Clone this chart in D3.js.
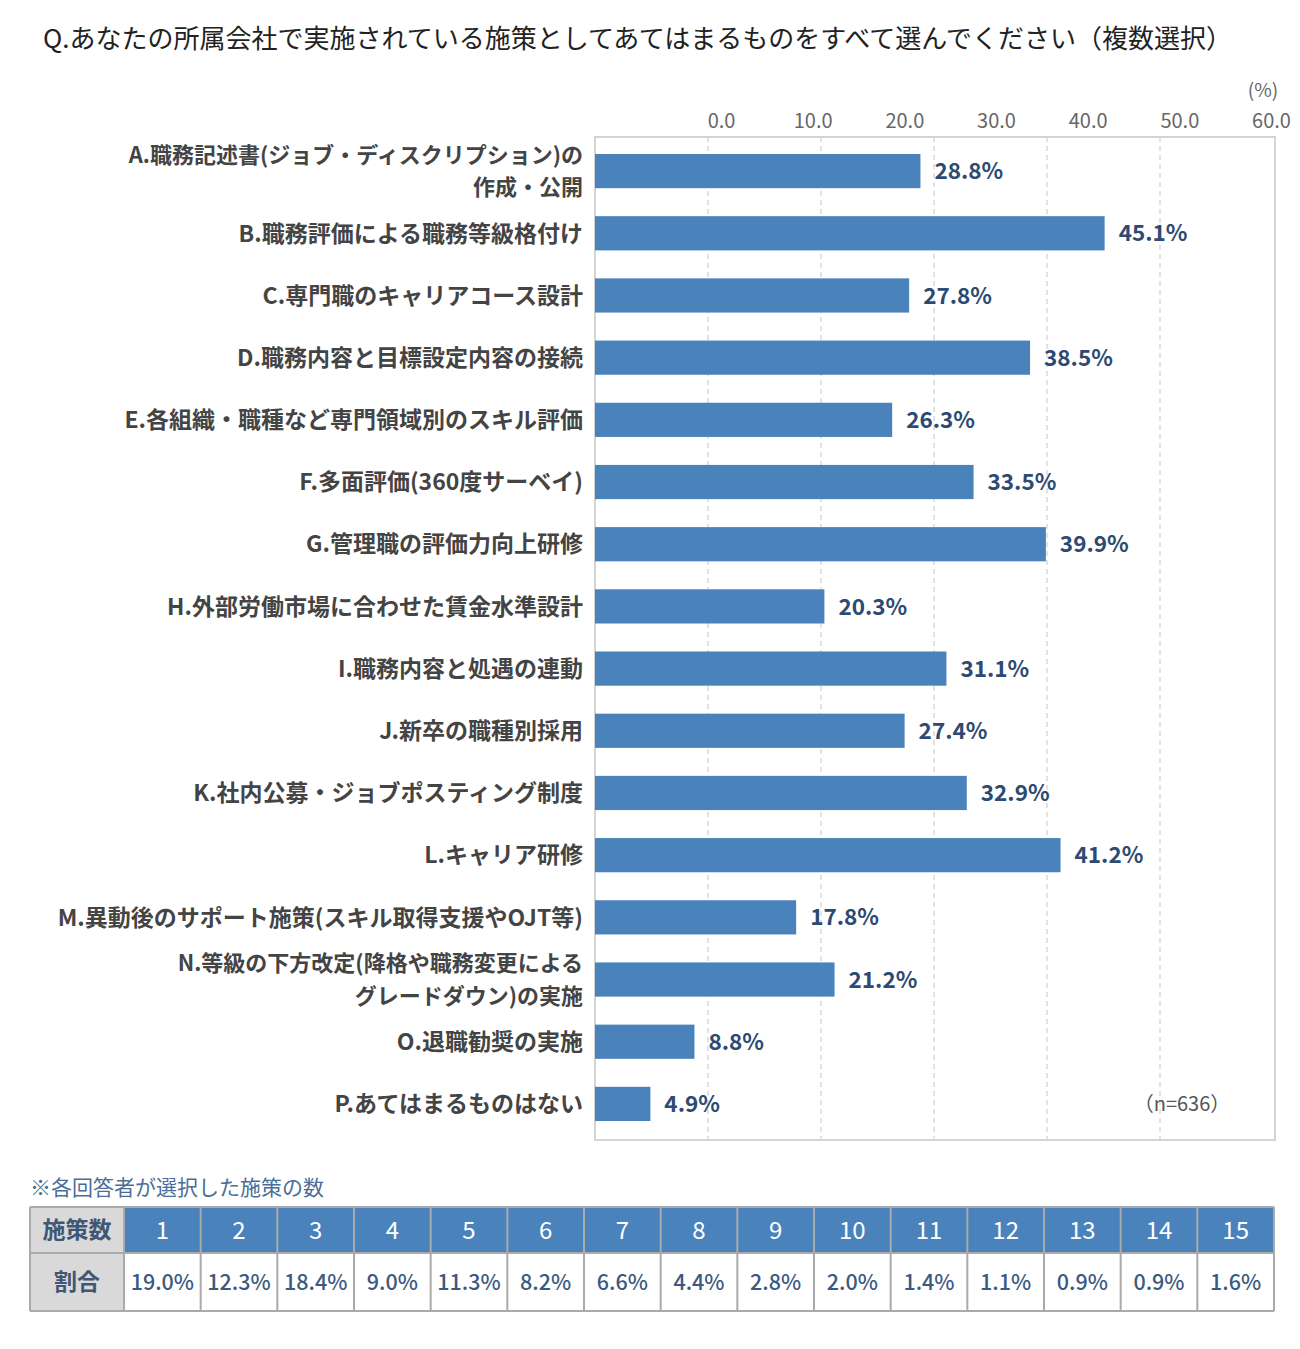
<!DOCTYPE html>
<html>
<head>
<meta charset="utf-8">
<script src="https://cdn.jsdelivr.net/npm/d3@7"></script>
<style>
  body { margin: 0; background: #fff; }
  svg { font-family: "Noto Sans CJK JP", "Noto Sans", sans-serif; }
</style>
</head>
<body>
<div id="chart"></div>
<script>
// data
var categories = [
  "A.職務記述書(ジョブ・ディスクリプション)の\n作成・公開",
  "B.職務評価による職務等級格付け",
  "C.専門職のキャリアコース設計",
  "D.職務内容と目標設定内容の接続",
  "E.各組織・職種など専門領域別のスキル評価",
  "F.多面評価(360度サーベイ)",
  "G.管理職の評価力向上研修",
  "H.外部労働市場に合わせた賃金水準設計",
  "I.職務内容と処遇の連動",
  "J.新卒の職種別採用",
  "K.社内公募・ジョブポスティング制度",
  "L.キャリア研修",
  "M.異動後のサポート施策(スキル取得支援やOJT等)",
  "N.等級の下方改定(降格や職務変更による\nグレードダウン)の実施",
  "O.退職勧奨の実施",
  "P.あてはまるものはない"
];
var values = [28.8, 45.1, 27.8, 38.5, 26.3, 33.5, 39.9, 20.3, 31.1, 27.4, 32.9, 41.2, 17.8, 21.2, 8.8, 4.9];
var xTicks = [0, 10, 20, 30, 40, 50, 60];

var tableCounts = ["1","2","3","4","5","6","7","8","9","10","11","12","13","14","15"];
var tableShares = ["19.0%","12.3%","18.4%","9.0%","11.3%","8.2%","6.6%","4.4%","2.8%","2.0%","1.4%","1.1%","0.9%","0.9%","1.6%"];

var title = "Q.あなたの所属会社で実施されている施策としてあてはまるものをすべて選んでください（複数選択）";

var W = 1300, H = 1349;
var barColor = "#4a82bc";
var plot = {left: 595, right: 1275, top: 137, bottom: 1140};

var svg = d3.select("#chart").append("svg")
  .attr("width", W).attr("height", H);

// title
svg.append("text")
  .attr("x", 43).attr("y", 48)
  .attr("font-size", 26).attr("fill", "#222")
  .text(title);

var x = d3.scaleLinear().domain([0, 60]).range([plot.left, plot.right - 2]);
// tick labels in the source sit shifted from the gridlines
var xLabel = d3.scaleLinear().domain([0, 60]).range([721, 1271]);

var y = d3.scaleBand()
  .domain(categories)
  .range([140, 1135])
  .paddingInner(0.45)
  .paddingOuter(0.225);

// gridlines
svg.append("g")
  .selectAll("line")
  .data(xTicks.slice(1, -1))
  .enter().append("line")
    .attr("x1", function(d){ return x(d); })
    .attr("x2", function(d){ return x(d); })
    .attr("y1", plot.top).attr("y2", plot.bottom)
    .attr("stroke", "#cfcfcf")
    .attr("stroke-width", 1.2)
    .attr("stroke-dasharray", "5,4");

// plot frame
svg.append("rect")
  .attr("x", plot.left).attr("y", plot.top)
  .attr("width", plot.right - plot.left)
  .attr("height", plot.bottom - plot.top)
  .attr("fill", "none")
  .attr("stroke", "#d4d4d4")
  .attr("stroke-width", 2);

// top axis labels
var axisTop = d3.axisTop(xLabel)
  .tickValues(xTicks)
  .tickFormat(d3.format(".1f"))
  .tickSize(0)
  .tickPadding(0);

var ax = svg.append("g")
  .attr("transform", "translate(0,128)")
  .call(axisTop);
ax.select(".domain").remove();
ax.selectAll("text")
  .attr("font-size", 20)
  .attr("fill", "#666")
  .attr("font-family", "\"Noto Sans CJK JP\", sans-serif");

svg.append("text")
  .attr("x", 1263).attr("y", 97)
  .attr("text-anchor", "middle")
  .attr("font-size", 19).attr("fill", "#666")
  .text("(%)");

// bars
svg.append("g")
  .selectAll("rect")
  .data(values)
  .enter().append("rect")
    .attr("x", x(0))
    .attr("y", function(d, i){ return y(categories[i]); })
    .attr("width", function(d){ return x(d) - x(0); })
    .attr("height", y.bandwidth())
    .attr("fill", barColor);

// value labels
svg.append("g")
  .selectAll("text")
  .data(values)
  .enter().append("text")
    .attr("x", function(d){ return x(d) + 14; })
    .attr("y", function(d, i){ return y(categories[i]) + y.bandwidth() / 2; })
    .attr("dy", "0.36em")
    .attr("font-size", 22.5)
    .attr("font-weight", "bold")
    .attr("fill", "#2c4a72")
    .text(function(d){ return d.toFixed(1) + "%"; });

// category labels
var catG = svg.append("g");
categories.forEach(function(c) {
  var lines = c.split("\n");
  var cy = y(c) + y.bandwidth() / 2;
  var two = lines.length > 1;
  var t = catG.append("text")
    .attr("x", 583)
    .attr("text-anchor", "end")
    .attr("font-size", two ? 22 : 23)
    .attr("font-weight", "bold")
    .attr("fill", "#444");
  lines.forEach(function(l, j) {
    var off = (j - (lines.length - 1) / 2) * 32.5;
    t.append("tspan")
      .attr("x", 583)
      .attr("y", cy + off)
      .attr("dy", "0.36em")
      .text(l);
  });
});

// sample size
svg.append("text")
  .attr("x", 1182).attr("y", 1104)
  .attr("dy", "0.36em")
  .attr("text-anchor", "middle")
  .attr("font-size", 20).attr("fill", "#555")
  .text("（n=636）");

// ---- table of selected counts ----
svg.append("text")
  .attr("x", 30).attr("y", 1195)
  .attr("font-size", 21).attr("fill", "#4a6e98")
  .text("※各回答者が選択した施策の数");

var tbl = {left: 30, first: 124, right: 1274, top: 1207, mid: 1253, bottom: 1311};
var col = d3.scaleBand().domain(tableCounts).range([tbl.first, tbl.right]);
var border = "#aaa";
var tableG = svg.append("g");

// first column cells
tableG.append("rect")
  .attr("x", tbl.left).attr("y", tbl.top)
  .attr("width", tbl.first - tbl.left).attr("height", tbl.bottom - tbl.top)
  .attr("fill", "#d9d9d9");

// header cells
tableG.selectAll(".hcell")
  .data(tableCounts)
  .enter().append("rect")
    .attr("class", "hcell")
    .attr("x", function(d){ return col(d); })
    .attr("y", tbl.top)
    .attr("width", col.bandwidth())
    .attr("height", tbl.mid - tbl.top)
    .attr("fill", barColor);

// grid lines of table
var vlines = [tbl.left, tbl.first].concat(tableCounts.map(function(d){ return col(d) + col.bandwidth(); }));
tableG.selectAll(".vl")
  .data(vlines)
  .enter().append("line")
    .attr("x1", function(d){ return d; }).attr("x2", function(d){ return d; })
    .attr("y1", tbl.top).attr("y2", tbl.bottom)
    .attr("stroke", border).attr("stroke-width", 2);
tableG.selectAll(".hl")
  .data([tbl.top, tbl.mid, tbl.bottom])
  .enter().append("line")
    .attr("x1", tbl.left).attr("x2", tbl.right)
    .attr("y1", function(d){ return d; }).attr("y2", function(d){ return d; })
    .attr("stroke", border).attr("stroke-width", 2);

tableG.append("text")
  .attr("x", (tbl.left + tbl.first) / 2).attr("y", (tbl.top + tbl.mid) / 2)
  .attr("dy", "0.36em").attr("text-anchor", "middle")
  .attr("font-size", 23).attr("font-weight", "bold").attr("fill", "#3f5675")
  .text("施策数");
tableG.append("text")
  .attr("x", (tbl.left + tbl.first) / 2).attr("y", (tbl.mid + tbl.bottom) / 2)
  .attr("dy", "0.36em").attr("text-anchor", "middle")
  .attr("font-size", 23).attr("font-weight", "bold").attr("fill", "#3f5675")
  .text("割合");

tableG.selectAll(".htxt")
  .data(tableCounts)
  .enter().append("text")
    .attr("x", function(d){ return col(d) + col.bandwidth() / 2; })
    .attr("y", (tbl.top + tbl.mid) / 2)
    .attr("dy", "0.36em").attr("text-anchor", "middle")
    .attr("font-size", 24).attr("fill", "#fff")
    .text(function(d){ return d; });

tableG.selectAll(".vtxt")
  .data(tableShares)
  .enter().append("text")
    .attr("x", function(d, i){ return col(tableCounts[i]) + col.bandwidth() / 2; })
    .attr("y", (tbl.mid + tbl.bottom) / 2)
    .attr("dy", "0.36em").attr("text-anchor", "middle")
    .attr("font-size", 21.5).attr("font-weight", 500).attr("fill", "#3c5a80")
    .text(function(d){ return d; });
</script>
</body>
</html>
